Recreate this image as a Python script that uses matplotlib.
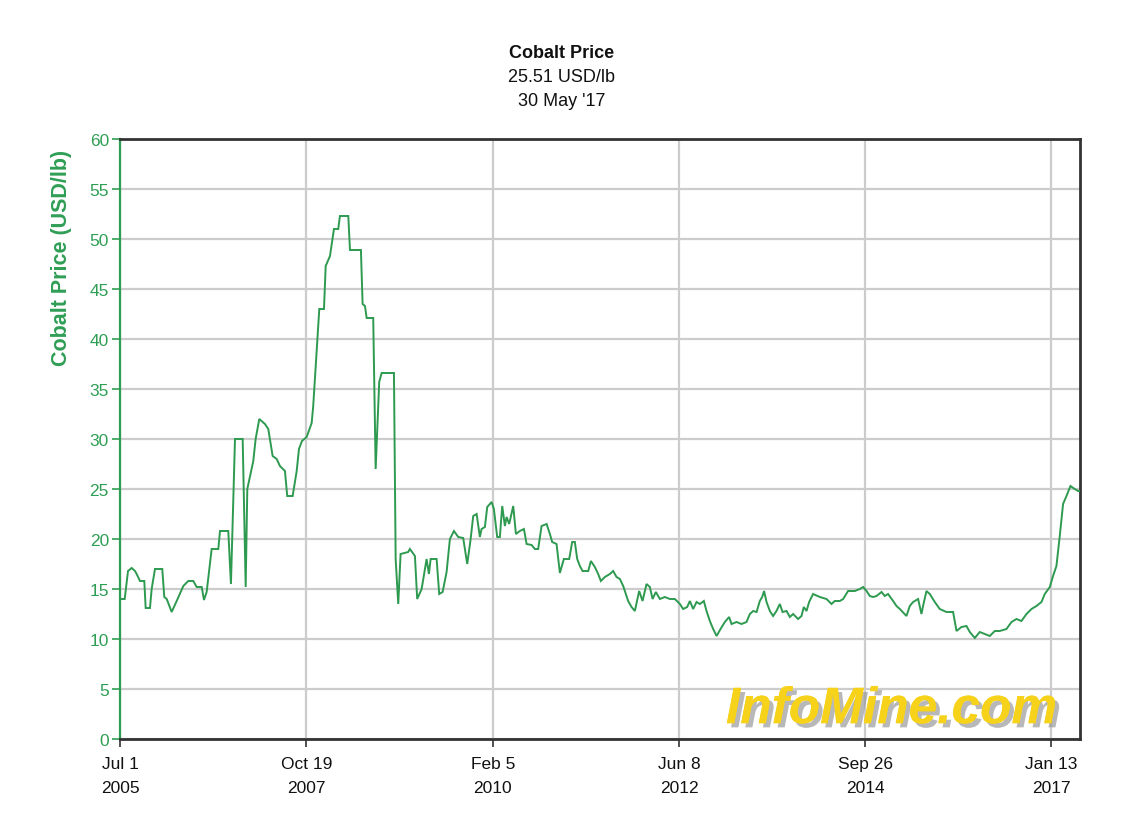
import matplotlib
matplotlib.use("Agg")
import matplotlib.pyplot as plt
import matplotlib.patheffects as pe
from matplotlib import font_manager

# ---- data (decimal year, USD/lb) ----
years = [
    2005.518, 2005.555, 2005.596, 2005.641, 2005.682, 2005.703, 2005.744, 2005.797, 2005.814, 2005.867,
    2005.888, 2005.929, 2006.019, 2006.044, 2006.074, 2006.135, 2006.197, 2006.279, 2006.340, 2006.402,
    2006.444, 2006.506, 2006.534, 2006.567, 2006.629, 2006.711, 2006.732, 2006.834, 2006.867, 2006.917,
    2007.012, 2007.049, 2007.069, 2007.143, 2007.172, 2007.217, 2007.287, 2007.328, 2007.382, 2007.432,
    2007.472, 2007.534, 2007.562, 2007.629, 2007.679, 2007.707, 2007.744, 2007.802, 2007.864, 2007.883,
    2007.958, 2008.016, 2008.037, 2008.090, 2008.139, 2008.192, 2008.213, 2008.316, 2008.337, 2008.472,
    2008.493, 2008.522, 2008.543, 2008.624, 2008.654, 2008.698, 2008.728, 2008.880, 2008.901, 2008.933,
    2008.962, 2009.056, 2009.077, 2009.139, 2009.167, 2009.222, 2009.283, 2009.312, 2009.333, 2009.407,
    2009.439, 2009.481, 2009.530, 2009.571, 2009.621, 2009.674, 2009.735, 2009.785, 2009.827, 2009.859,
    2009.901, 2009.941, 2009.962, 2010.003, 2010.032, 2010.086, 2010.114, 2010.155, 2010.188, 2010.217,
    2010.250, 2010.271, 2010.303, 2010.353, 2010.386, 2010.435, 2010.485, 2010.518, 2010.580, 2010.620,
    2010.661, 2010.703, 2010.765, 2010.806, 2010.834, 2010.888, 2010.929, 2010.978, 2011.044, 2011.081,
    2011.114, 2011.143, 2011.176, 2011.209, 2011.279, 2011.312, 2011.361, 2011.402, 2011.435, 2011.485,
    2011.546, 2011.587, 2011.629, 2011.670, 2011.711, 2011.772, 2011.814, 2011.855, 2011.908, 2011.950,
    2011.999, 2012.040, 2012.074, 2012.114, 2012.164, 2012.225, 2012.287, 2012.349, 2012.411, 2012.451,
    2012.501, 2012.534, 2012.575, 2012.617, 2012.658, 2012.707, 2012.740, 2012.781, 2012.822, 2012.864,
    2012.913, 2012.966, 2013.019, 2013.049, 2013.111, 2013.172, 2013.234, 2013.275, 2013.316, 2013.358,
    2013.398, 2013.427, 2013.451, 2013.481, 2013.522, 2013.562, 2013.604, 2013.645, 2013.679, 2013.728,
    2013.769, 2013.809, 2013.871, 2013.913, 2013.941, 2013.975, 2014.007, 2014.056, 2014.139, 2014.222,
    2014.283, 2014.324, 2014.386, 2014.427, 2014.488, 2014.571, 2014.633, 2014.674, 2014.716, 2014.756,
    2014.797, 2014.839, 2014.901, 2014.941, 2014.982, 2015.044, 2015.086, 2015.127, 2015.209, 2015.250,
    2015.291, 2015.353, 2015.394, 2015.414, 2015.456, 2015.497, 2015.559, 2015.620, 2015.703, 2015.785,
    2015.827, 2015.888, 2015.950, 2015.991, 2016.053, 2016.114, 2016.176, 2016.238, 2016.300, 2016.361,
    2016.444, 2016.506, 2016.567, 2016.629, 2016.691, 2016.753, 2016.814, 2016.876, 2016.917, 2016.979,
    2017.019, 2017.061, 2017.102, 2017.143, 2017.185, 2017.234, 2017.287, 2017.328, 2017.349,
]
prices = [
    14.0, 14.0, 16.8, 17.1, 16.8, 16.5, 15.8, 15.8, 13.1, 13.1,
    15.0, 17.0, 17.0, 14.2, 14.0, 12.7, 13.8, 15.3, 15.8, 15.8,
    15.2, 15.2, 13.9, 14.7, 19.0, 19.0, 20.8, 20.8, 15.5, 30.0,
    30.0, 15.2, 25.0, 27.8, 30.0, 32.0, 31.5, 31.0, 28.3, 28.0,
    27.3, 26.8, 24.3, 24.3, 26.8, 29.0, 29.8, 30.2, 31.6, 33.3,
    43.0, 43.0, 47.3, 48.3, 51.0, 51.0, 52.3, 52.3, 48.9, 48.9,
    43.5, 43.3, 42.1, 42.1, 27.0, 35.7, 36.6, 36.6, 18.0, 13.5,
    18.5, 18.7, 19.0, 18.3, 14.0, 15.0, 18.0, 16.5, 18.0, 18.0,
    14.5, 14.7, 16.7, 20.0, 20.8, 20.2, 20.1, 17.5, 20.0, 22.3,
    22.5, 20.2, 21.0, 21.2, 23.2, 23.7, 23.0, 20.2, 20.2, 23.3,
    21.3, 22.2, 21.5, 23.3, 20.5, 20.8, 21.0, 19.5, 19.4, 19.0,
    19.0, 21.3, 21.5, 20.5, 19.7, 19.5, 16.6, 18.0, 18.0, 19.7,
    19.7, 18.0, 17.3, 16.8, 16.8, 17.8, 17.2, 16.5, 15.8, 16.2,
    16.5, 16.8, 16.2, 16.0, 15.3, 13.8, 13.2, 12.8, 14.8, 13.8,
    15.5, 15.2, 14.0, 14.7, 14.0, 14.2, 14.0, 14.0, 13.5, 13.0,
    13.2, 13.8, 13.0, 13.7, 13.5, 13.8, 12.8, 11.8, 11.0, 10.3,
    11.0, 11.7, 12.2, 11.5, 11.7, 11.5, 11.7, 12.5, 12.8, 12.7,
    13.8, 14.2, 14.8, 13.7, 12.8, 12.3, 12.8, 13.5, 12.7, 12.8,
    12.2, 12.5, 12.0, 12.3, 13.2, 12.8, 13.7, 14.5, 14.2, 14.0,
    13.5, 13.8, 13.8, 14.0, 14.8, 14.8, 15.0, 15.2, 14.8, 14.3,
    14.2, 14.3, 14.7, 14.3, 14.5, 13.8, 13.3, 13.0, 12.3, 13.3,
    13.7, 14.0, 12.5, 13.3, 14.8, 14.5, 13.7, 13.0, 12.7, 12.7,
    10.8, 11.2, 11.3, 10.7, 10.1, 10.7, 10.5, 10.3, 10.8, 10.8,
    11.0, 11.7, 12.0, 11.8, 12.5, 13.0, 13.3, 13.7, 14.5, 15.2,
    16.3, 17.3, 20.3, 23.5, 24.3, 25.3, 25.0, 24.8, 24.8,
]
tick_years = [2005.50, 2007.80, 2010.10, 2012.40, 2014.70, 2017.00]
tick_labels = ["Jul 1\n2005", "Oct 19\n2007", "Feb 5\n2010", "Jun 8\n2012", "Sep 26\n2014", "Jan 13\n2017"]
y_ticks = [0, 5, 10, 15, 20, 25, 30, 35, 40, 45, 50, 55, 60]
title = "Cobalt Price"
subtitle1 = "25.51 USD/lb"
subtitle2 = "30 May '17"
ylabel = "Cobalt Price (USD/lb)"
watermark = "InfoMine.com"

GREEN = "#2f9e55"
LINE = "#2e9a50"
DARK = "#333333"
GRID = "#cccccc"

avail = {f.name for f in font_manager.fontManager.ttflist}
base_font = "Liberation Sans" if "Liberation Sans" in avail else "DejaVu Sans"
narrow_font = "Liberation Sans Narrow" if "Liberation Sans Narrow" in avail else base_font
plt.rcParams["font.family"] = [base_font, "DejaVu Sans"]

fig = plt.figure(figsize=(11.36, 8.28), dpi=100)
ax = fig.add_axes([120 / 1136, 1 - 740 / 828, 960 / 1136, 600 / 828])

ax.plot(years, prices, color=LINE, lw=1.4, zorder=3, solid_joinstyle="miter")

ax.set_xlim(2005.497, 2017.352)
ax.set_ylim(0, 60)
ax.set_yticks(y_ticks)
ax.set_xticks(tick_years)
ax.set_xticklabels(tick_labels, fontsize=12.5, color="#111111", linespacing=1.75)
ax.tick_params(axis="y", colors=GREEN, labelsize=12.5, length=6, width=1.2, direction="out", pad=2)
ax.tick_params(axis="x", colors=DARK, labelcolor="#111111", length=6, width=1.2, direction="out", pad=6)
ax.grid(True, color=GRID, lw=1.6, zorder=0)
ax.set_axisbelow(True)

for s in ["top", "right", "bottom"]:
    ax.spines[s].set_color(DARK)
    ax.spines[s].set_linewidth(2.0)
ax.spines["left"].set_color(GREEN)
ax.spines["left"].set_linewidth(1.6)

fig.text(562 / 1136, 1 - 53 / 828, title, ha="center", va="center", fontsize=13,
         fontweight="bold", family=[narrow_font, "DejaVu Sans"], color="#111111")
fig.text(562 / 1136, 1 - 77 / 828, subtitle1, ha="center", va="center", fontsize=13,
         family=[narrow_font, "DejaVu Sans"], color="#111111")
fig.text(562 / 1136, 1 - 101 / 828, subtitle2, ha="center", va="center", fontsize=13,
         family=[narrow_font, "DejaVu Sans"], color="#111111")

fig.text(61 / 1136, 1 - 258 / 828, ylabel, rotation=90, ha="center", va="center",
         fontsize=15.5, fontweight="bold", color=GREEN)

ax.text(0.976, 0.008, watermark, transform=ax.transAxes, ha="right", va="bottom",
        fontsize=37, fontweight="heavy", style="italic", color="#f7d21a",
        family=[narrow_font, "DejaVu Sans"], zorder=2,
        path_effects=[pe.withSimplePatchShadow(offset=(3, -3), shadow_rgbFace="#9a9a9a", alpha=0.7),
                      pe.Normal()])

fig.savefig("out.png", dpi=100, facecolor="white")
